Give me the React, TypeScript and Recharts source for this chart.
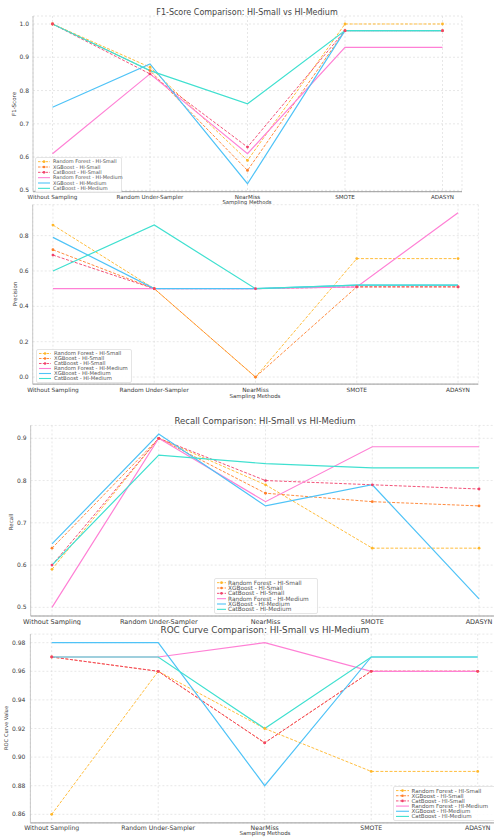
import React from 'react';
import { LineChart, Line, XAxis, YAxis, CartesianGrid, Legend } from 'recharts';

const methods = ['Without Sampling', 'Random Under-Sampler', 'NearMiss', 'SMOTE', 'ADASYN'];
const seriesNames = [
  'Random Forest - HI-Small',
  'XGBoost - HI-Small',
  'CatBoost - HI-Small',
  'Random Forest - HI-Medium',
  'XGBoost - HI-Medium',
  'CatBoost - HI-Medium',
];
const seriesKeys = ['rfS', 'xgbS', 'catS', 'rfM', 'xgbM', 'catM'];
const seriesColors = ['#FFB627', '#FF7F2A', '#F0406A', '#FF80D5', '#4FC3F7', '#40E0D0'];
const seriesDashed = [true, true, true, false, false, false];

// F1-Score
const f1RfSmall = [1.0, 0.87, 0.59, 1.0, 1.0];
const f1XgbSmall = [1.0, 0.86, 0.56, 0.98, 0.98];
const f1CatSmall = [1.0, 0.85, 0.63, 0.98, 0.98];
const f1RfMedium = [0.61, 0.85, 0.61, 0.93, 0.93];
const f1XgbMedium = [0.75, 0.88, 0.52, 0.98, 0.98];
const f1CatMedium = [1.0, 0.86, 0.76, 0.98, 0.98];
const f1Ticks = [0.5, 0.6, 0.7, 0.8, 0.9, 1.0];

// Precision
const prRfSmall = [0.86, 0.5, 0.0, 0.67, 0.67];
const prXgbSmall = [0.72, 0.5, 0.0, 0.51, 0.51];
const prCatSmall = [0.69, 0.5, 0.5, 0.51, 0.51];
const prRfMedium = [0.5, 0.5, 0.5, 0.51, 0.93];
const prXgbMedium = [0.79, 0.5, 0.5, 0.52, 0.52];
const prCatMedium = [0.6, 0.86, 0.5, 0.52, 0.52];
const prTicks = [0.0, 0.2, 0.4, 0.6, 0.8];

// Recall
const reRfSmall = [0.59, 0.9, 0.79, 0.64, 0.64];
const reXgbSmall = [0.64, 0.9, 0.77, 0.75, 0.74];
const reCatSmall = [0.6, 0.9, 0.8, 0.79, 0.78];
const reRfMedium = [0.5, 0.9, 0.75, 0.88, 0.88];
const reXgbMedium = [0.65, 0.91, 0.74, 0.79, 0.52];
const reCatMedium = [0.6, 0.86, 0.84, 0.83, 0.83];
const reTicks = [0.5, 0.6, 0.7, 0.8, 0.9];

// ROC
const rocRfSmall = [0.86, 0.96, 0.92, 0.89, 0.89];
const rocXgbSmall = [0.97, 0.96, 0.91, 0.96, 0.96];
const rocCatSmall = [0.97, 0.96, 0.91, 0.96, 0.96];
const rocRfMedium = [0.97, 0.97, 0.98, 0.96, 0.96];
const rocXgbMedium = [0.98, 0.98, 0.88, 0.97, 0.97];
const rocCatMedium = [0.97, 0.97, 0.92, 0.97, 0.97];
const rocTicks = [0.86, 0.88, 0.9, 0.92, 0.94, 0.96, 0.98];

const buildData = (arrs: number[][]) =>
  methods.map((m, i) => {
    const row: any = { x: i, name: m };
    seriesKeys.forEach((k, j) => {
      row[k] = arrs[j][i];
    });
    return row;
  });

const f1Data = buildData([f1RfSmall, f1XgbSmall, f1CatSmall, f1RfMedium, f1XgbMedium, f1CatMedium]);
const prData = buildData([prRfSmall, prXgbSmall, prCatSmall, prRfMedium, prXgbMedium, prCatMedium]);
const reData = buildData([reRfSmall, reXgbSmall, reCatSmall, reRfMedium, reXgbMedium, reCatMedium]);
const rocData = buildData([rocRfSmall, rocXgbSmall, rocCatSmall, rocRfMedium, rocXgbMedium, rocCatMedium]);

const FONT = 'DejaVu Sans, sans-serif';

type LegendCfg = { x: number; y: number; w: number; h: number; fs: number; textX: number; lineLen: number };

const LegendBox = ({ w, h, fs, textX, lineLen }: LegendCfg) => {
  const rowH = (h - 4) / 6;
  return (
    <svg width={w} height={h} style={{ display: 'block', overflow: 'visible' }}>
      <rect x={0.5} y={0.5} width={w - 1} height={h - 1} rx={1.5} fill="#fff" fillOpacity={0.85} stroke="#d4d4d4" strokeWidth={0.6} />
      {seriesNames.map((n, i) => {
        const cy = 2 + rowH * (i + 0.5);
        const c = seriesColors[i];
        const d = seriesDashed[i];
        return (
          <g key={n}>
            <line x1={3} x2={3 + lineLen} y1={cy} y2={cy} stroke={c} strokeWidth={d ? 0.9 : 1.1} strokeDasharray={d ? '2.5 1.3' : undefined} />
            {d && <circle cx={3 + lineLen / 2} cy={cy} r={1.3} fill={c} />}
            <text x={textX} y={cy} dy="0.35em" fontSize={fs} fill="#555" fontFamily={FONT}>
              {n}
            </text>
          </g>
        );
      })}
    </svg>
  );
};

type TextCfg = { x: number; y: number; text: string; fs: number; rotate?: boolean; color?: string };

type PanelCfg = {
  top: number;
  width: number;
  height: number;
  margin: { top: number; right: number; bottom: number; left: number };
  yWidth: number;
  xHeight: number;
  xTickSize: number;
  yTickSize: number;
  xFs: number;
  yFs: number;
  yDomain: [number, number];
  yTicks: number[];
  yDecimals: number;
  data: any[];
  legend: LegendCfg;
  texts: TextCfg[];
};

const Panel = (p: PanelCfg) => (
  <div style={{ position: 'absolute', left: 0, top: p.top, width: p.width, height: p.height }}>
    <LineChart width={p.width} height={p.height} data={p.data} margin={p.margin}>
      <CartesianGrid stroke="#d6d6d6" strokeDasharray="2 2" strokeWidth={0.6} />
      <XAxis
        type="number"
        dataKey="x"
        domain={[-0.2, 4.2]}
        ticks={[0, 1, 2, 3, 4]}
        interval={0}
        allowDataOverflow
        height={p.xHeight}
        tickLine={false}
        tickSize={p.xTickSize}
        axisLine={{ stroke: '#9a9a9a', strokeWidth: 1 }}
        tick={{ fontSize: p.xFs, fill: '#3a3a3a', fontFamily: FONT }}
        tickFormatter={(v: number) => methods[v]}
      />
      <YAxis
        type="number"
        domain={p.yDomain}
        ticks={p.yTicks}
        interval={0}
        allowDataOverflow
        width={p.yWidth}
        tickLine={false}
        tickSize={p.yTickSize}
        axisLine={{ stroke: '#bdbdbd', strokeWidth: 0.8 }}
        tick={{ fontSize: p.yFs, fill: '#3a3a3a', fontFamily: FONT }}
        tickFormatter={(v: number) => v.toFixed(p.yDecimals)}
      />
      {seriesKeys.map((k, i) => (
        <Line
          key={k}
          type="linear"
          dataKey={k}
          name={seriesNames[i]}
          stroke={seriesColors[i]}
          strokeWidth={seriesDashed[i] ? 0.9 : 1.2}
          strokeDasharray={seriesDashed[i] ? '3 1.6' : undefined}
          dot={seriesDashed[i] ? { r: 1.4, fill: seriesColors[i], stroke: 'none' } : false}
          activeDot={false}
          isAnimationActive={false}
        />
      ))}
      <Legend
        layout="vertical"
        align="center"
        verticalAlign="middle"
        wrapperStyle={{ left: p.legend.x, top: p.legend.y, width: p.legend.w, height: p.legend.h }}
        content={() => <LegendBox {...p.legend} />}
      />
    </LineChart>
    <svg
      width={p.width}
      height={p.height}
      style={{ position: 'absolute', left: 0, top: 0, pointerEvents: 'none' }}
    >
      {p.texts.map((t, i) => (
        <text
          key={i}
          x={t.x}
          y={t.y}
          dy="0.35em"
          textAnchor="middle"
          fontSize={t.fs}
          fill={t.color || '#3a3a3a'}
          fontFamily={FONT}
          transform={t.rotate ? `rotate(-90 ${t.x} ${t.y})` : undefined}
        >
          {t.text}
        </text>
      ))}
    </svg>
  </div>
);

export default function App() {
  return (
    <div style={{ position: 'absolute', left: 0, top: 0, width: 494, height: 837, overflow: 'hidden', background: '#fff' }}>
      <Panel
        top={0}
        width={494}
        height={206}
        margin={{ top: 16, right: 32, bottom: 0, left: 0 }}
        yWidth={33}
        xHeight={14.3}
        xTickSize={1}
        yTickSize={2}
        xFs={5.6}
        yFs={6}
        yDomain={[0.496, 1.024]}
        yTicks={f1Ticks}
        yDecimals={1}
        data={f1Data}
        legend={{ x: 35, y: 157, w: 87, h: 36, fs: 5, textX: 18, lineLen: 12 }}
        texts={[
          { x: 247, y: 12, text: 'F1-Score Comparison: HI-Small vs HI-Medium', fs: 8, color: '#444' },
          { x: 14, y: 104, text: 'F1-Score', fs: 5.5, rotate: true },
          { x: 247, y: 202.6, text: 'Sampling Methods', fs: 5.3 },
        ]}
      />
      <Panel
        top={195}
        width={494}
        height={210}
        margin={{ top: 9.7, right: 15.7, bottom: 0, left: 0 }}
        yWidth={32.7}
        xHeight={20.9}
        xTickSize={1.5}
        yTickSize={2}
        xFs={5.8}
        yFs={6}
        yDomain={[-0.04, 0.975]}
        yTicks={prTicks}
        yDecimals={1}
        data={prData}
        legend={{ x: 36, y: 154, w: 96, h: 34, fs: 5.3, textX: 18, lineLen: 12 }}
        texts={[
          { x: 15, y: 99, text: 'Precision', fs: 5.5, rotate: true },
          { x: 255, y: 201, text: 'Sampling Methods', fs: 5.5 },
        ]}
      />
      <Panel
        top={405}
        width={501}
        height={220}
        margin={{ top: 20.4, right: 0.6, bottom: 0, left: 0 }}
        yWidth={30.65}
        xHeight={9}
        xTickSize={1}
        yTickSize={2}
        xFs={6.5}
        yFs={6}
        yDomain={[0.4795, 0.9305]}
        yTicks={reTicks}
        yDecimals={1}
        data={reData}
        legend={{ x: 214, y: 173, w: 104, h: 36, fs: 5.8, textX: 14, lineLen: 9 }}
        texts={[
          { x: 265, y: 15.7, text: 'Recall Comparison: HI-Small vs HI-Medium', fs: 8.5, color: '#444' },
          { x: 11, y: 117, text: 'Recall', fs: 5.5, rotate: true },
        ]}
      />
      <Panel
        top={620}
        width={501}
        height={217}
        margin={{ top: 14.1, right: 2, bottom: 0, left: 0 }}
        yWidth={30.4}
        xHeight={14.1}
        xTickSize={1}
        yTickSize={3}
        xFs={6.2}
        yFs={6}
        yDomain={[0.854, 0.986]}
        yTicks={rocTicks}
        yDecimals={2}
        data={rocData}
        legend={{ x: 393, y: 165.7, w: 106, h: 35, fs: 5.5, textX: 18.5, lineLen: 13 }}
        texts={[
          { x: 265, y: 10, text: 'ROC Curve Comparison: HI-Small vs HI-Medium', fs: 8.8, color: '#444' },
          { x: 6, y: 108, text: 'ROC Curve Value', fs: 5.2, rotate: true },
          { x: 265, y: 213, text: 'Sampling Methods', fs: 5.5 },
        ]}
      />
    </div>
  );
}
